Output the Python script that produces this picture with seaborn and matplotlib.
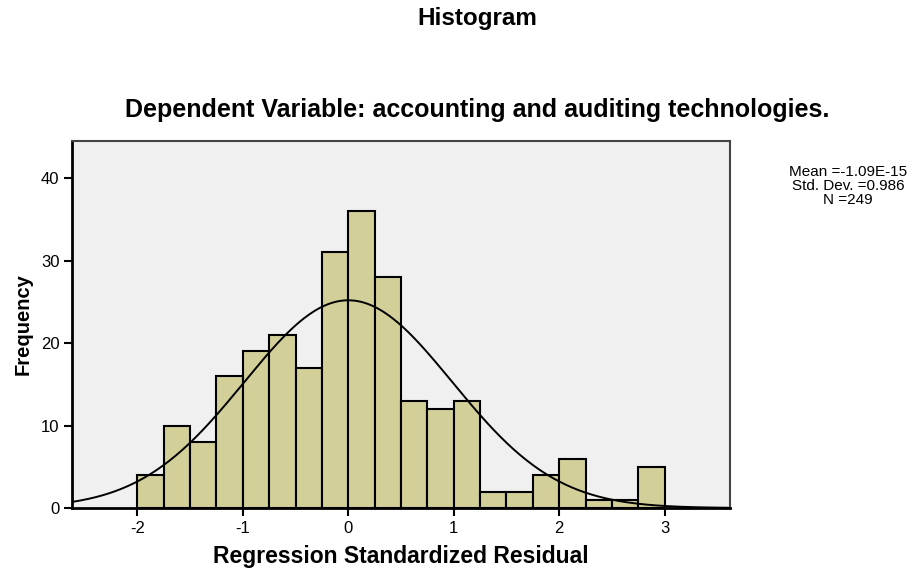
import numpy as np
import seaborn as sns
import matplotlib.pyplot as plt

# bin edges (width 0.25) and counts
bin_edges = [-2.0, -1.75, -1.5, -1.25, -1.0, -0.75, -0.5, -0.25, 0.0, 0.25, 0.5,
             0.75, 1.0, 1.25, 1.5, 1.75, 2.0, 2.25, 2.5, 2.75, 3.0]
counts = [4, 10, 8, 16, 19, 21, 17, 31, 36, 28, 13, 12, 13, 2, 2, 4, 6, 1, 1, 5]

mean = -1.09e-15
std_dev = 0.986
n_obs = 249

bar_color = '#D3CF98'
panel_color = '#F0F0F0'

sns.set_theme(style='white')
plt.rcParams['font.family'] = ['Liberation Sans', 'DejaVu Sans']
plt.rcParams['axes.unicode_minus'] = False
plt.rcParams['text.color'] = 'black'
plt.rcParams['axes.labelcolor'] = 'black'
plt.rcParams['xtick.color'] = 'black'
plt.rcParams['ytick.color'] = 'black'

fig = plt.figure(figsize=(9.21, 5.69), dpi=100)
ax = fig.add_axes([0.0782, 0.1072, 0.7144, 0.645])
ax.set_facecolor(panel_color)

centers = [(a + b) / 2 for a, b in zip(bin_edges[:-1], bin_edges[1:])]
sns.histplot(x=centers, weights=counts, bins=bin_edges, color=bar_color,
             edgecolor='black', linewidth=1.5, alpha=1, ax=ax)

# normal curve scaled to the histogram
width = bin_edges[1] - bin_edges[0]
xs = np.linspace(-2.62, 3.62, 400)
ys = n_obs * width * np.exp(-0.5 * ((xs - mean) / std_dev) ** 2) / (std_dev * np.sqrt(2 * np.pi))
sns.lineplot(x=xs, y=ys, color='black', linewidth=1.4, ax=ax)

ax.set_xlim(-2.62, 3.62)
ax.set_ylim(0, 44.5)
ax.set_xticks([-2, -1, 0, 1, 2, 3])
ax.set_yticks([0, 10, 20, 30, 40])
ax.tick_params(axis='both', direction='out', length=6, width=1.5, color='black',
               labelsize=12, pad=3, left=True, bottom=True)
for side in ['left', 'bottom']:
    ax.spines[side].set_color('black')
    ax.spines[side].set_linewidth(2)
for side in ['top', 'right']:
    ax.spines[side].set_color('#444444')
    ax.spines[side].set_linewidth(1.5)

ax.set_xlabel('Regression Standardized Residual', fontsize=16.5, fontweight='bold', labelpad=7)
ax.set_ylabel('Frequency', fontsize=14.5, fontweight='bold', labelpad=6)

fig.text(0.518, 0.967, 'Histogram', ha='center', va='center', fontsize=17.5, fontweight='bold')
fig.text(0.518, 0.807, 'Dependent Variable: accounting and auditing technologies.',
         ha='center', va='center', fontsize=18, fontweight='bold')
fig.text(0.921, 0.673, 'Mean =-1.09E-15\nStd. Dev. =0.986\nN =249',
         ha='center', va='center', fontsize=11, linespacing=1.0, multialignment='center')

fig.savefig('out.png', dpi=100)
